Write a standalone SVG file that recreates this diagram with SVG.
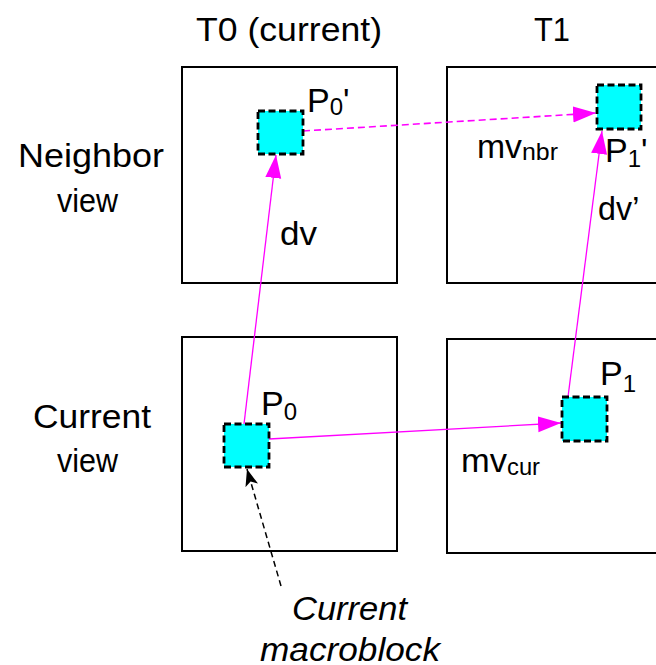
<svg xmlns="http://www.w3.org/2000/svg" width="656" height="665" viewBox="0 0 656 665">
<defs>
<style>
.frame{fill:#ffffff;stroke:#000000;stroke-width:2}
.mb{fill:#00ffff;stroke:#000000;stroke-width:2.8;stroke-dasharray:7,3.5}
.t{font-family:"Liberation Sans",Arial,sans-serif;font-size:34px;fill:#000000}
.s{font-size:24px}
.i{font-style:italic}
.mag{fill:none;stroke:#ff00ff;stroke-width:1.3}
.magd{fill:none;stroke:#ff00ff;stroke-width:1.6;stroke-dasharray:7,4}
.blkd{fill:none;stroke:#000000;stroke-width:1.5;stroke-dasharray:6,4}
</style>
<marker id="am" markerUnits="userSpaceOnUse" markerWidth="24" markerHeight="17" refX="23" refY="8.5" orient="auto">
<path d="M0,0.5 L23,8.5 L0,16.5 z" fill="#ff00ff"/>
</marker>
<marker id="ak" markerUnits="userSpaceOnUse" markerWidth="18" markerHeight="14" refX="17" refY="7" orient="auto">
<path d="M0,0.5 L17,7 L0,13.5 L4,7 z" fill="#000000"/>
</marker>
</defs>
<rect width="656" height="665" fill="#ffffff"/>

<g id="headers">
<text class="t" x="196" y="41" textLength="186" lengthAdjust="spacingAndGlyphs">T0 (current)</text>
<text class="t" x="534" y="41" textLength="36" lengthAdjust="spacingAndGlyphs">T1</text>
<text class="t" x="18" y="167" textLength="146" lengthAdjust="spacingAndGlyphs">Neighbor</text>
<text class="t" x="57" y="212" textLength="61" lengthAdjust="spacingAndGlyphs">view</text>
<text class="t" x="33" y="428" textLength="118" lengthAdjust="spacingAndGlyphs">Current</text>
<text class="t" x="57" y="472" textLength="61" lengthAdjust="spacingAndGlyphs">view</text>
</g>

<g id="frame-nbr-t0"><rect class="frame" x="182" y="67" width="215" height="216"/></g>
<g id="frame-nbr-t1"><rect class="frame" x="447" y="67" width="215" height="216"/></g>
<g id="frame-cur-t0"><rect class="frame" x="182" y="337" width="215" height="214"/></g>
<g id="frame-cur-t1"><rect class="frame" x="447" y="339" width="215" height="214"/></g>

<g id="connectors">
<line class="mag" x1="244" y1="424" x2="276" y2="155" marker-end="url(#am)"/>
<line class="mag" x1="568" y1="397" x2="602" y2="131" marker-end="url(#am)"/>
<line class="mag" x1="269" y1="439" x2="561" y2="423" marker-end="url(#am)"/>
<line class="magd" x1="303" y1="131" x2="596" y2="113" marker-end="url(#am)"/>
<line class="blkd" x1="281" y1="586" x2="247" y2="469" marker-end="url(#ak)"/>
</g>

<g id="P0prime">
<rect class="mb" x="258" y="111" width="45" height="43"/>
<text class="t" x="307" y="112">P<tspan class="s" dy="3">0</tspan><tspan dy="-3">'</tspan></text>
</g>
<g id="P1prime">
<rect class="mb" x="597" y="85" width="44" height="44"/>
<text class="t" x="605" y="162">P<tspan class="s" dy="5">1</tspan><tspan dy="-5">'</tspan></text>
</g>
<g id="P0">
<rect class="mb" x="224" y="424" width="45" height="43"/>
<text class="t" x="261" y="415">P<tspan class="s" dy="5">0</tspan></text>
</g>
<g id="P1">
<rect class="mb" x="562" y="397" width="45" height="44"/>
<text class="t" x="600" y="385">P<tspan class="s" dy="7">1</tspan></text>
</g>

<g id="labels">
<text class="t" x="280" y="245" textLength="37" lengthAdjust="spacingAndGlyphs">dv</text>
<text class="t" x="598" y="220"><tspan textLength="34" lengthAdjust="spacingAndGlyphs">dv</tspan>’</text>
<text class="t" x="477" y="158"><tspan textLength="45" lengthAdjust="spacingAndGlyphs">mv</tspan><tspan class="s" dy="2" textLength="36" lengthAdjust="spacingAndGlyphs">nbr</tspan></text>
<text class="t" x="461" y="472"><tspan textLength="46" lengthAdjust="spacingAndGlyphs">mv</tspan><tspan class="s" dy="3" textLength="33" lengthAdjust="spacingAndGlyphs">cur</tspan></text>
<text class="t i" x="292" y="620" textLength="115" lengthAdjust="spacingAndGlyphs">Current</text>
<text class="t i" x="260" y="661" textLength="180" lengthAdjust="spacingAndGlyphs">macroblock</text>
</g>
</svg>
